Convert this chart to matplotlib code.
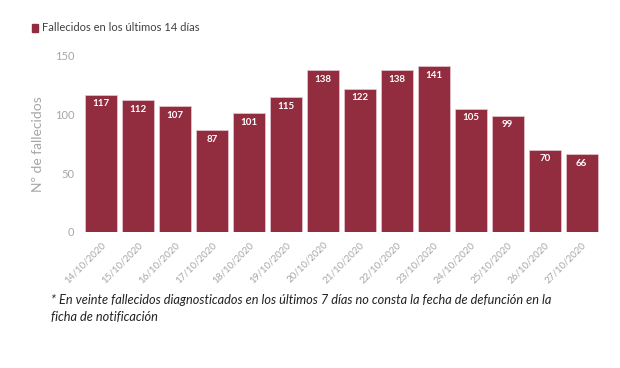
import matplotlib
matplotlib.use("Agg")
import matplotlib.pyplot as plt

plt.rcParams['font.family'] = ['Lato', 'DejaVu Sans']

dates = ["14/10/2020", "15/10/2020", "16/10/2020", "17/10/2020", "18/10/2020",
         "19/10/2020", "20/10/2020", "21/10/2020", "22/10/2020", "23/10/2020",
         "24/10/2020", "25/10/2020", "26/10/2020", "27/10/2020"]
deaths = [117, 112, 107, 87, 101, 115, 138, 122, 138, 141, 105, 99, 70, 66]
yticks = [0, 50, 100, 150]

bar_color = "#922d40"
grey = "#a6a6a6"

fig = plt.figure(figsize=(6.2, 3.68), dpi=100)
ax = fig.add_axes([0.133, 0.370, 0.835, 0.478])

x = range(len(dates))
bars = ax.bar(x, deaths, width=0.87, color=bar_color, edgecolor="#e8c8cf", linewidth=0.5)

for xi, v in zip(x, deaths):
    ax.text(xi, v - 4, str(v), ha="center", va="top", color="white", fontsize=7, fontweight="bold")

ax.set_xlim(-0.5, len(dates) - 0.5)
ax.set_ylim(0, 150)
ax.set_yticks(yticks)
ax.set_yticklabels([str(t) for t in yticks], color=grey, fontsize=8)
ax.set_xticks(list(x))
ax.set_xticklabels(dates, rotation=45, ha="right", rotation_mode="anchor", color=grey, fontsize=7)
ax.tick_params(length=0, pad=6)
ax.set_ylabel("Nº de fallecidos", color=grey, fontsize=10, labelpad=8)
for s in ax.spines.values():
    s.set_visible(False)

# legend
fig.patches.append(plt.Rectangle((0.052, 0.914), 0.009, 0.022, transform=fig.transFigure,
                                 color=bar_color, figure=fig))
fig.text(0.067, 0.925, "Fallecidos en los últimos 14 días", fontsize=8, color="#404040", va="center")

fig.text(0.083, 0.162, "* En veinte fallecidos diagnosticados en los últimos 7 días no consta la fecha de defunción en la\nficha de notificación",
         fontsize=9.2, style="italic", color="#222222", va="center", linespacing=1.45)

fig.savefig("out.png", dpi=100)
